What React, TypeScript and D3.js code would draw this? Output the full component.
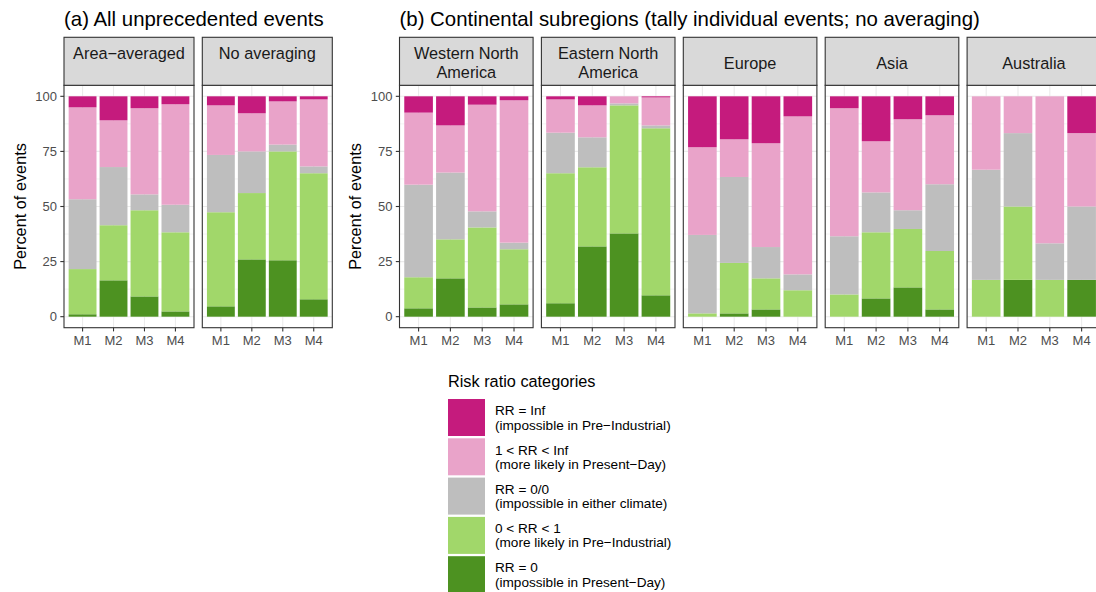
import React from "react";
import * as d3 from "d3";

const models = ["M1", "M2", "M3", "M4"];
const leftPanels = ["Area−averaged", "No averaging"];
const rightPanels = ["Western North\nAmerica", "Eastern North\nAmerica", "Europe", "Asia", "Australia"];
const plotTitles = ["(a) All unprecedented events", "(b) Continental subregions (tally individual events; no averaging)"];
const yTicks = [0, 25, 50, 75, 100];
const yMinor = [12.5, 37.5, 62.5, 87.5];

// per panel (7) x model (4), percentages per category
const rrZero = [1.1, 16.5, 9.2, 2.4, 4.7, 26.0, 25.6, 7.9, 3.8, 17.4, 4.2, 5.6, 6.1, 31.9, 37.8, 9.7, 0, 1.5, 3.3, 0, 0, 8.3, 13.3, 3.3, 0, 16.7, 0, 16.7];
const rrLow = [20.5, 25.0, 39.1, 35.9, 42.7, 30.1, 49.4, 57.2, 14.1, 17.7, 36.3, 25.0, 59.0, 35.9, 58.1, 75.8, 1.5, 22.9, 14.1, 12.0, 10.1, 30.0, 26.5, 26.5, 16.7, 33.3, 16.7, 0];
const rrNaN = [31.7, 26.4, 7.2, 12.5, 26.0, 18.9, 3.1, 3.1, 42.0, 30.3, 7.3, 3.0, 18.4, 13.6, 0.9, 1.3, 35.6, 39.0, 14.2, 7.2, 26.4, 18.1, 8.5, 30.3, 50.0, 33.3, 16.6, 33.3];
const rrHigh = [41.7, 21.2, 39.1, 45.6, 22.5, 17.3, 19.6, 30.4, 32.7, 21.4, 48.4, 64.6, 15.1, 14.5, 3.2, 12.7, 39.8, 17.1, 47.1, 71.7, 58.1, 23.2, 41.3, 31.3, 33.3, 16.7, 66.7, 33.3];
const rrInf = [5.0, 10.9, 5.4, 3.6, 4.1, 7.7, 2.3, 1.4, 7.4, 13.2, 3.8, 1.8, 1.4, 4.1, 0, 0.5, 23.1, 19.5, 21.3, 9.1, 5.4, 20.4, 10.4, 8.6, 0, 0, 0, 16.7];

const catKeys = ["zero", "low", "nan", "high", "inf"];
const catColors = ["#4D9221", "#A1D76A", "#BEBEBE", "#E9A3C9", "#C51B7D"];
const legendLabels = [
  ["RR = Inf", "(impossible in Pre−Industrial)"],
  ["1 < RR < Inf", "(more likely in Present−Day)"],
  ["RR = 0/0", "(impossible in either climate)"],
  ["0 < RR < 1", "(more likely in Pre−Industrial)"],
  ["RR = 0", "(impossible in Present−Day)"],
];
const legendColors = ["#C51B7D", "#E9A3C9", "#BEBEBE", "#A1D76A", "#4D9221"];

const FONT = "'Liberation Sans', Arial, Helvetica, sans-serif";

const stripTop = 37.3;
const panelTop = 85.3;
const panelBottom = 327.7;

const y = d3.scaleLinear().domain([-5, 105]).range([panelBottom, panelTop]);

function rowsFor(panelIndex: number) {
  return models.map((m, j) => {
    const i = panelIndex * 4 + j;
    return { model: m, zero: rrZero[i], low: rrLow[i], nan: rrNaN[i], high: rrHigh[i], inf: rrInf[i] };
  });
}

function Panel({ x0, width, label, panelIndex, showY, centerStrip }: any) {
  const x = d3.scaleBand().domain(models).range([x0, x0 + width]).paddingInner(0.1).paddingOuter(0.15);
  const rows = rowsFor(panelIndex);
  const series = d3.stack<any>().keys(catKeys)(rows);
  const lines = label.split("\n");
  const cx = x0 + width / 2;
  return (
    <g>
      <rect x={x0} y={panelTop} width={width} height={panelBottom - panelTop} fill="white" />
      {yMinor.map((t) => (
        <line key={"mn" + t} x1={x0} x2={x0 + width} y1={y(t)} y2={y(t)} stroke="#EBEBEB" strokeWidth={0.55} />
      ))}
      {yTicks.map((t) => (
        <line key={"mj" + t} x1={x0} x2={x0 + width} y1={y(t)} y2={y(t)} stroke="#EBEBEB" strokeWidth={1.1} />
      ))}
      {models.map((m) => (
        <line key={"v" + m} x1={x(m)! + x.bandwidth() / 2} x2={x(m)! + x.bandwidth() / 2} y1={panelTop} y2={panelBottom} stroke="#EBEBEB" strokeWidth={1.1} />
      ))}
      {series.map((s, k) => (
        <g key={s.key} fill={catColors[k]}>
          {s.map((d: any, j: number) =>
            d[1] - d[0] > 0 ? (
              <rect key={j} x={x(d.data.model)} width={x.bandwidth()} y={y(d[1])} height={y(d[0]) - y(d[1])} />
            ) : null
          )}
        </g>
      ))}
      <rect x={x0} y={panelTop} width={width} height={panelBottom - panelTop} fill="none" stroke="#333333" strokeWidth={1.1} />
      <rect x={x0} y={stripTop} width={width} height={panelTop - stripTop} fill="#D9D9D9" stroke="#333333" strokeWidth={1.1} />
      {centerStrip && lines.length === 1 ? (
        <text x={cx} y={69.3} textAnchor="middle" fontSize={16.3} fill="#1A1A1A" fontFamily={FONT}>{lines[0]}</text>
      ) : (
        lines.map((ln: string, i: number) => (
          <text key={i} x={cx} y={59.3 + i * 18.4} textAnchor="middle" fontSize={16.3} fill="#1A1A1A" fontFamily={FONT}>{ln}</text>
        ))
      )}
      {models.map((m) => (
        <g key={"xt" + m}>
          <line x1={x(m)! + x.bandwidth() / 2} x2={x(m)! + x.bandwidth() / 2} y1={panelBottom} y2={panelBottom + 3.7} stroke="#333333" strokeWidth={1.1} />
          <text x={x(m)! + x.bandwidth() / 2} y={345} textAnchor="middle" fontSize={13} fill="#4D4D4D" fontFamily={FONT}>{m}</text>
        </g>
      ))}
      {showY && (
        <g>
          {yTicks.map((t) => (
            <g key={"yt" + t}>
              <line x1={x0 - 3.7} x2={x0} y1={y(t)} y2={y(t)} stroke="#333333" strokeWidth={1.1} />
              <text x={x0 - 7} y={y(t) + 4.6} textAnchor="end" fontSize={13} fill="#4D4D4D" fontFamily={FONT}>{t}</text>
            </g>
          ))}
          <text transform={`translate(${x0 - 38.5},${(panelTop + panelBottom) / 2}) rotate(-90)`} textAnchor="middle" fontSize={16.3} fill="#000" fontFamily={FONT}>Percent of events</text>
        </g>
      )}
    </g>
  );
}

export default function App() {
  const leftX0 = 64, leftW = 130, leftGap = 8.3;
  const rightX0 = 399.5, rightW = 133.6, rightGap = 8.3;
  const legX = 448, legY = 399, keySize = 37, keyPitch = 39.3;
  return (
    <svg width={1096} height={592} style={{ position: "absolute", left: 0, top: 0 }} fontFamily={FONT}>
      <rect width={1096} height={592} fill="white" />
      <text x={leftX0} y={26} fontSize={20.4} fill="#000">{plotTitles[0]}</text>
      <text x={rightX0} y={26} fontSize={20.4} fill="#000">{plotTitles[1]}</text>
      {leftPanels.map((p, i) => (
        <Panel key={p} x0={leftX0 + i * (leftW + leftGap)} width={leftW} label={p} panelIndex={i} showY={i === 0} centerStrip={false} />
      ))}
      {rightPanels.map((p, i) => (
        <Panel key={p} x0={rightX0 + i * (rightW + rightGap)} width={rightW} label={p} panelIndex={i + 2} showY={i === 0} centerStrip={true} />
      ))}
      <text x={legX} y={386.7} fontSize={16.3} fill="#000">Risk ratio categories</text>
      {legendLabels.map((lab, i) => {
        const ky = legY + i * keyPitch;
        return (
          <g key={i}>
            <rect x={legX} y={ky} width={keySize} height={keySize} fill={legendColors[i]} />
            <text x={legX + 47} y={ky + keySize / 2 - 2.3} fontSize={13.6} fill="#000">{lab[0]}</text>
            <text x={legX + 47} y={ky + keySize / 2 + 12} fontSize={13.6} fill="#000">{lab[1]}</text>
          </g>
        );
      })}
    </svg>
  );
}
